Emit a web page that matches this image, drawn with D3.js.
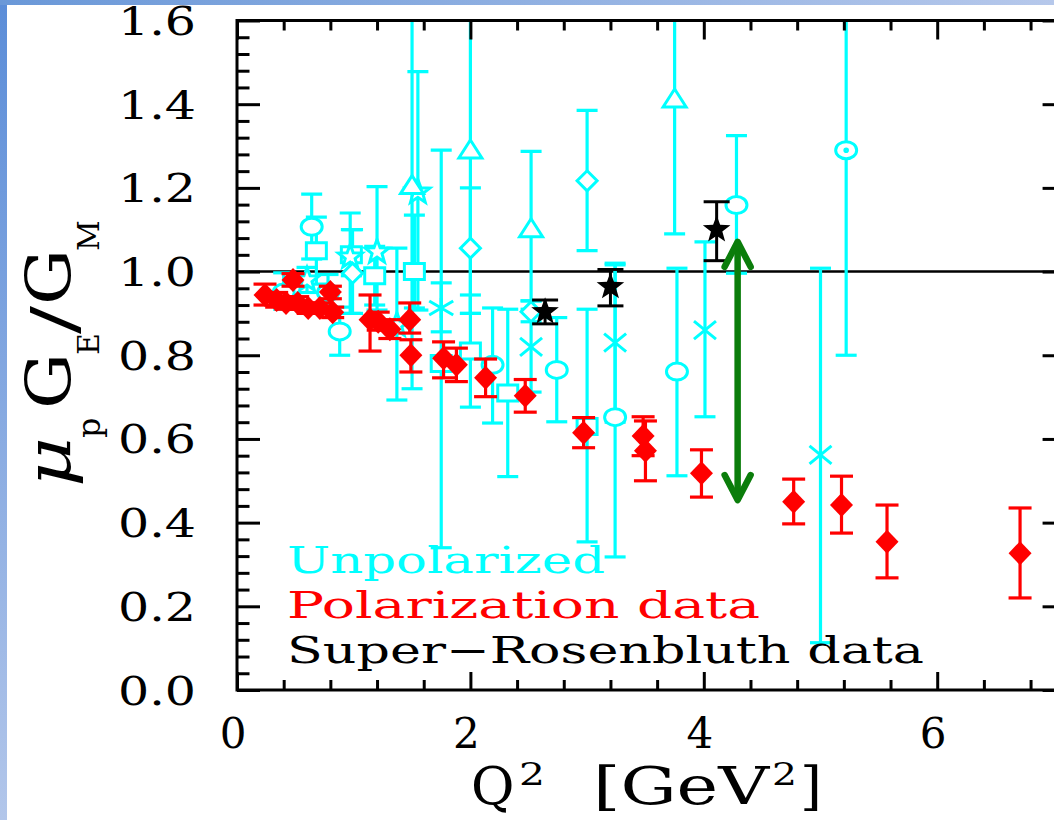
<!DOCTYPE html>
<html>
<head>
<meta charset="utf-8">
<script src="https://cdn.jsdelivr.net/npm/d3@7"></script>
<style>
  body { margin: 0; background: #fff; }
  svg { display: block; }
  text { font-family: 'DejaVu Serif', serif; }
</style>
</head>
<body>
<div id="chart"></div>
<script>
// Data: [Q2, ratio, lower end of bar, upper end of bar]
const polarization = [
  [0.24, 0.944, 0.920, 0.970], [0.34, 0.932, 0.915, 0.950], [0.42, 0.925, 0.910, 0.940],
  [0.48, 0.980, 0.965, 0.995], [0.52, 0.925, 0.910, 0.940], [0.61, 0.913, 0.900, 0.925],
  [0.71, 0.913, 0.900, 0.925], [0.80, 0.951, 0.935, 0.965], [0.82, 0.903, 0.890, 0.915],
  [1.14, 0.885, 0.810, 0.944], [1.21, 0.880, 0.860, 0.903], [1.31, 0.862, 0.840, 0.885],
  [1.48, 0.885, 0.853, 0.925], [1.49, 0.800, 0.760, 0.837], [1.77, 0.793, 0.746, 0.832],
  [1.88, 0.777, 0.737, 0.817], [2.13, 0.746, 0.701, 0.791], [2.47, 0.703, 0.664, 0.742],
  [2.97, 0.615, 0.579, 0.651], [3.48, 0.607, 0.560, 0.653], [3.50, 0.572, 0.500, 0.643],
  [3.98, 0.518, 0.461, 0.574], [4.77, 0.450, 0.397, 0.504], [5.18, 0.442, 0.375, 0.511],
  [5.57, 0.354, 0.268, 0.442], [6.71, 0.327, 0.220, 0.435]
];

const superRosenbluth = [
  [2.64, 0.904, 0.875, 0.932], [3.20, 0.964, 0.918, 1.005], [4.11, 1.100, 1.026, 1.167]
];

// Unpolarized (Rosenbluth) data, one list per symbol
const unpolCircle = [
  [0.40, 0.950, 0.910, 0.997], [0.78, 0.950, 0.910, 0.993], [0.64, 1.107, 1.030, 1.185],
  [0.88, 0.857, 0.800, 0.915], [2.19, 0.777, 0.638, 0.913], [2.74, 0.765, 0.641, 0.890],
  [3.24, 0.652, 0.318, 1.016], [3.77, 0.761, 0.512, 1.008], [4.28, 1.159, 0.996, 1.325]
];
const unpolCircleDot = [[5.22, 1.290, 0.800, 1.780]];
const unpolSquare = [
  [0.68, 1.050, 0.970, 1.130], [0.98, 1.040, 0.990, 1.100], [1.18, 0.990, 0.920, 1.060],
  [1.52, 1.000, 0.913, 1.135], [1.75, 0.780, 0.340, 1.290], [2.00, 0.810, 0.676, 0.944],
  [2.32, 0.710, 0.510, 0.910], [3.00, 0.630, 0.354, 0.910]
];
const unpolStar = [
  [0.60, 0.980, 0.950, 1.010], [0.97, 1.035, 0.900, 1.140], [1.20, 1.047, 0.908, 1.203],
  [1.37, 0.872, 0.693, 1.056], [1.55, 1.190, 0.908, 1.478]
];
const unpolDiamond = [
  [0.99, 0.996, 0.900, 1.100], [2.00, 1.056, 0.900, 1.200], [2.52, 0.904, 0.880, 0.930],
  [3.00, 1.217, 1.050, 1.385]
];
const unpolTriangle = [
  [1.50, 1.203, 0.720, 1.680], [2.00, 1.288, 0.900, 1.700], [2.52, 1.100, 0.910, 1.287],
  [3.75, 1.410, 1.090, 1.730]
];
const unpolAsterisk = [[1.75, 0.913, 0.856, 0.973]];
const unpolCross = [
  [2.52, 0.820, 0.712, 0.930], [3.24, 0.830, 0.640, 1.020], [4.01, 0.860, 0.653, 1.071],
  [5.00, 0.562, 0.113, 1.008]
];

// Double arrow: [Q2, lower ratio, upper ratio]
const discrepancyArrow = [4.29, 0.454, 1.071];

const xTickValues = [0, 2, 4, 6];
const yTickValues = [0, 0.2, 0.4, 0.6, 0.8, 1.0, 1.2, 1.4, 1.6];
const legendLabels = ['Unpolarized', 'Polarization data', 'Super\u2212Rosenbluth data'];

// ---------------------------------------------------------------
const width = 1054, height = 820;
const CYAN = '#00ffff', RED = '#ff0000', GREEN = '#0b7d0b';

const svg = d3.select('#chart').append('svg')
  .attr('width', width).attr('height', height);

// Slide background: thin blue strips on the left and top
const defs = svg.append('defs');
const gl = defs.append('linearGradient').attr('id', 'leftStrip')
  .attr('x1', 0).attr('y1', 0).attr('x2', 0).attr('y2', 1);
gl.append('stop').attr('offset', 0).attr('stop-color', '#5b8dd8');
gl.append('stop').attr('offset', 1).attr('stop-color', '#b2c6ea');
const gt = defs.append('linearGradient').attr('id', 'topStrip')
  .attr('x1', 0).attr('y1', 0).attr('x2', 1).attr('y2', 0);
gt.append('stop').attr('offset', 0).attr('stop-color', '#6a98d8');
gt.append('stop').attr('offset', 1).attr('stop-color', '#b6c8eb');

svg.append('rect').attr('width', width).attr('height', height).attr('fill', '#fff');
svg.append('rect').attr('x', 0).attr('y', 0).attr('width', 7).attr('height', height).attr('fill', 'url(#leftStrip)');
svg.append('rect').attr('x', 0).attr('y', 0).attr('width', width).attr('height', 5).attr('fill', 'url(#topStrip)');

// Scales (right frame edge sits just outside the window)
const xMax = 7.1;
const x = d3.scaleLinear().domain([0, xMax]).range([237, 237 + 116.7 * xMax]);
const y = d3.scaleLinear().domain([0, 1.6]).range([690, 20.5]);

defs.append('clipPath').attr('id', 'plotClip').append('rect')
  .attr('x', x(0)).attr('y', y(1.6))
  .attr('width', x(xMax) - x(0)).attr('height', y(0) - y(1.6));

const plot = svg.append('g').attr('clip-path', 'url(#plotClip)');

// Reference line at ratio = 1
plot.append('line')
  .attr('x1', x(0)).attr('x2', x(xMax))
  .attr('y1', y(1)).attr('y2', y(1))
  .attr('stroke', '#000').attr('stroke-width', 2.5);

// Symbol shapes, centred on (0,0)
function starPath(rOut, rIn) {
  const pts = d3.range(10).map(i => {
    const a = -Math.PI / 2 + i * Math.PI / 5;
    const r = i % 2 === 0 ? rOut : rIn;
    return [r * Math.cos(a), r * Math.sin(a)];
  });
  return 'M' + pts.map(p => p.join(',')).join('L') + 'Z';
}
const ellipse = 'M-10.5,0A10.5,8.5 0 1,0 10.5,0A10.5,8.5 0 1,0 -10.5,0Z';
const shapes = {
  circle: ellipse,
  circleDot: ellipse + 'M-1.3,0A1.3,1.3 0 1,0 1.3,0A1.3,1.3 0 1,0 -1.3,0Z',
  square: 'M-10,-8H10V8H-10Z',
  diamond: 'M0,-10L10,0L0,10L-10,0Z',
  triangle: 'M0,-11L11.5,7L-11.5,7Z',
  star: starPath(12.5, 5.2),
  cross: 'M-11,-9L11,9M-11,9L11,-9',
  asterisk: 'M0,-10V10M-12,-7L12,7M-12,7L12,-7',
  filledDiamond: 'M0,-12L11.5,0L0,12L-11.5,0Z',
  filledStar: starPath(14.5, 6)
};

function drawErrorBars(g, data, color, capHalf, width) {
  const bars = g.append('g').attr('stroke', color).attr('stroke-width', width);
  bars.selectAll('.bar').data(data).join('line')
    .attr('x1', d => x(d[0])).attr('x2', d => x(d[0]))
    .attr('y1', d => y(d[2])).attr('y2', d => y(d[3]));
  bars.selectAll('.capLo').data(data).join('line')
    .attr('x1', d => x(d[0]) - capHalf).attr('x2', d => x(d[0]) + capHalf)
    .attr('y1', d => y(d[2])).attr('y2', d => y(d[2]));
  bars.selectAll('.capHi').data(data).join('line')
    .attr('x1', d => x(d[0]) - capHalf).attr('x2', d => x(d[0]) + capHalf)
    .attr('y1', d => y(d[3])).attr('y2', d => y(d[3]));
}

function drawSymbols(g, data, shape, stroke, fill) {
  g.append('g').selectAll('path').data(data).join('path')
    .attr('transform', d => `translate(${x(d[0])},${y(d[1])})`)
    .attr('d', shapes[shape])
    .attr('fill', fill)
    .attr('stroke', stroke)
    .attr('stroke-width', stroke === 'none' ? 0 : 3);
}

// Unpolarized data (cyan, open symbols)
const unpolSets = [
  { data: unpolCircle, shape: 'circle', fill: '#fff' },
  { data: unpolCircleDot, shape: 'circleDot', fill: '#fff' },
  { data: unpolSquare, shape: 'square', fill: '#fff' },
  { data: unpolStar, shape: 'star', fill: '#fff' },
  { data: unpolDiamond, shape: 'diamond', fill: '#fff' },
  { data: unpolTriangle, shape: 'triangle', fill: '#fff' },
  { data: unpolAsterisk, shape: 'asterisk', fill: 'none' },
  { data: unpolCross, shape: 'cross', fill: 'none' }
];
const cyanG = plot.append('g');
unpolSets.forEach(s => drawErrorBars(cyanG, s.data, CYAN, 10.5, 3.2));
unpolSets.forEach(s => drawSymbols(cyanG, s.data, s.shape, CYAN, s.fill));

// Polarization data (red filled diamonds)
const redG = plot.append('g');
drawErrorBars(redG, polarization, RED, 11.5, 3.2);
drawSymbols(redG, polarization, 'filledDiamond', 'none', RED);

// Super-Rosenbluth data (black filled stars)
const blackG = plot.append('g');
drawErrorBars(blackG, superRosenbluth, '#000', 13, 3);
drawSymbols(blackG, superRosenbluth, 'filledStar', 'none', '#000');

// Green double arrow
const ax = x(discrepancyArrow[0]);
const ay1 = y(discrepancyArrow[1]), ay2 = y(discrepancyArrow[2]);
const arrowG = plot.append('g').attr('stroke', GREEN).attr('stroke-width', 6.5)
  .attr('fill', 'none').attr('stroke-linecap', 'round').attr('stroke-linejoin', 'round');
arrowG.append('line').attr('x1', ax).attr('x2', ax).attr('y1', ay1 - 3).attr('y2', ay2 + 3);
arrowG.append('path').attr('d', `M${ax - 13},${ay2 + 25}L${ax},${ay2}L${ax + 13},${ay2 + 25}`);
arrowG.append('path').attr('d', `M${ax - 13},${ay1 - 25}L${ax},${ay1}L${ax + 13},${ay1 - 25}`);

// Frame and ticks
const minorX = d3.range(0.4, xMax, 0.4).filter(v => Math.abs(v / 2 - Math.round(v / 2)) > 1e-6);
const minorY = d3.range(0.04, 1.6, 0.04).filter(v => Math.abs(v / 0.2 - Math.round(v / 0.2)) > 1e-6);

function tickAxis(axisFn, scale, values, size, transform) {
  const g = svg.append('g').attr('transform', transform)
    .call(axisFn(scale).tickValues(values).tickSize(size).tickSizeOuter(0).tickFormat(''));
  g.select('.domain').remove();
  g.selectAll('.tick line').attr('stroke', '#000').attr('stroke-width', 3);
}
tickAxis(d3.axisBottom, x, xTickValues, -18, `translate(0,${y(0)})`);
tickAxis(d3.axisBottom, x, minorX, -10, `translate(0,${y(0)})`);
tickAxis(d3.axisTop, x, xTickValues, -19, `translate(0,${y(1.6)})`);
tickAxis(d3.axisTop, x, minorX, -10, `translate(0,${y(1.6)})`);
tickAxis(d3.axisLeft, y, yTickValues, -23, `translate(${x(0)},0)`);
tickAxis(d3.axisLeft, y, minorY, -12.5, `translate(${x(0)},0)`);
tickAxis(d3.axisRight, y, yTickValues, -23, `translate(${x(xMax)},0)`);
tickAxis(d3.axisRight, y, minorY, -10, `translate(${x(xMax)},0)`);

svg.append('rect')
  .attr('x', x(0)).attr('y', y(1.6))
  .attr('width', x(xMax) - x(0)).attr('height', y(0) - y(1.6))
  .attr('fill', 'none').attr('stroke', '#000').attr('stroke-width', 3);

// Tick labels
svg.append('g').selectAll('text').data(yTickValues).join('text')
  .attr('x', 196).attr('y', d => y(d) + 14.5)
  .attr('text-anchor', 'end')
  .attr('font-size', 40)
  .attr('textLength', 78).attr('lengthAdjust', 'spacingAndGlyphs')
  .text(d => d.toFixed(1));

svg.append('g').selectAll('text').data(xTickValues).join('text')
  .attr('x', d => x(d) - 4).attr('y', 748)
  .attr('text-anchor', 'middle')
  .attr('font-size', 42)
  .text(d => d);

// Legend
const legendColors = [CYAN, RED, '#000'];
const legendLengths = [318, 473, 637];
svg.append('g').selectAll('text').data(legendLabels).join('text')
  .attr('x', 287).attr('y', (d, i) => 573 + i * 45)
  .attr('font-size', 37)
  .attr('fill', (d, i) => legendColors[i])
  .attr('textLength', (d, i) => legendLengths[i]).attr('lengthAdjust', 'spacingAndGlyphs')
  .text(d => d);

// X axis title: Q^2 [GeV^2]
const xt = svg.append('g');
xt.append('text').attr('x', 471).attr('y', 804).attr('font-size', 53).text('Q');
xt.append('text').attr('x', 519).attr('y', 785).attr('font-size', 31)
  .attr('textLength', 26).attr('lengthAdjust', 'spacingAndGlyphs').text('2');
xt.append('text').attr('x', 593).attr('y', 804).attr('font-size', 53)
  .attr('textLength', 176).attr('lengthAdjust', 'spacingAndGlyphs').text('[GeV');
xt.append('text').attr('x', 772).attr('y', 785).attr('font-size', 31)
  .attr('textLength', 25).attr('lengthAdjust', 'spacingAndGlyphs').text('2');
xt.append('text').attr('x', 800).attr('y', 804).attr('font-size', 53)
  .attr('textLength', 22).attr('lengthAdjust', 'spacingAndGlyphs').text(']');

// Y axis title: mu_p G_E / G_M (rotated, reads bottom to top)
const yt = svg.append('g').attr('transform', 'translate(70,487) rotate(-90)');
yt.append('text').attr('x', 0).attr('y', 0).attr('font-size', 62).attr('font-style', 'italic')
  .attr('textLength', 50).attr('lengthAdjust', 'spacingAndGlyphs').text('\u03bc');
yt.append('text').attr('x', 49).attr('y', 30).attr('font-size', 32).text('p');
yt.append('text').attr('x', 78).attr('y', 0).attr('font-size', 62)
  .attr('textLength', 56).attr('lengthAdjust', 'spacingAndGlyphs').text('G');
yt.append('text').attr('x', 132).attr('y', 29).attr('font-size', 30).text('E');
yt.append('text').attr('x', 153).attr('y', 5).attr('font-size', 62)
  .attr('textLength', 28).attr('lengthAdjust', 'spacingAndGlyphs').text('/');
yt.append('text').attr('x', 182).attr('y', 0).attr('font-size', 62)
  .attr('textLength', 56).attr('lengthAdjust', 'spacingAndGlyphs').text('G');
yt.append('text').attr('x', 236).attr('y', 29).attr('font-size', 30).text('M');
</script>
</body>
</html>
